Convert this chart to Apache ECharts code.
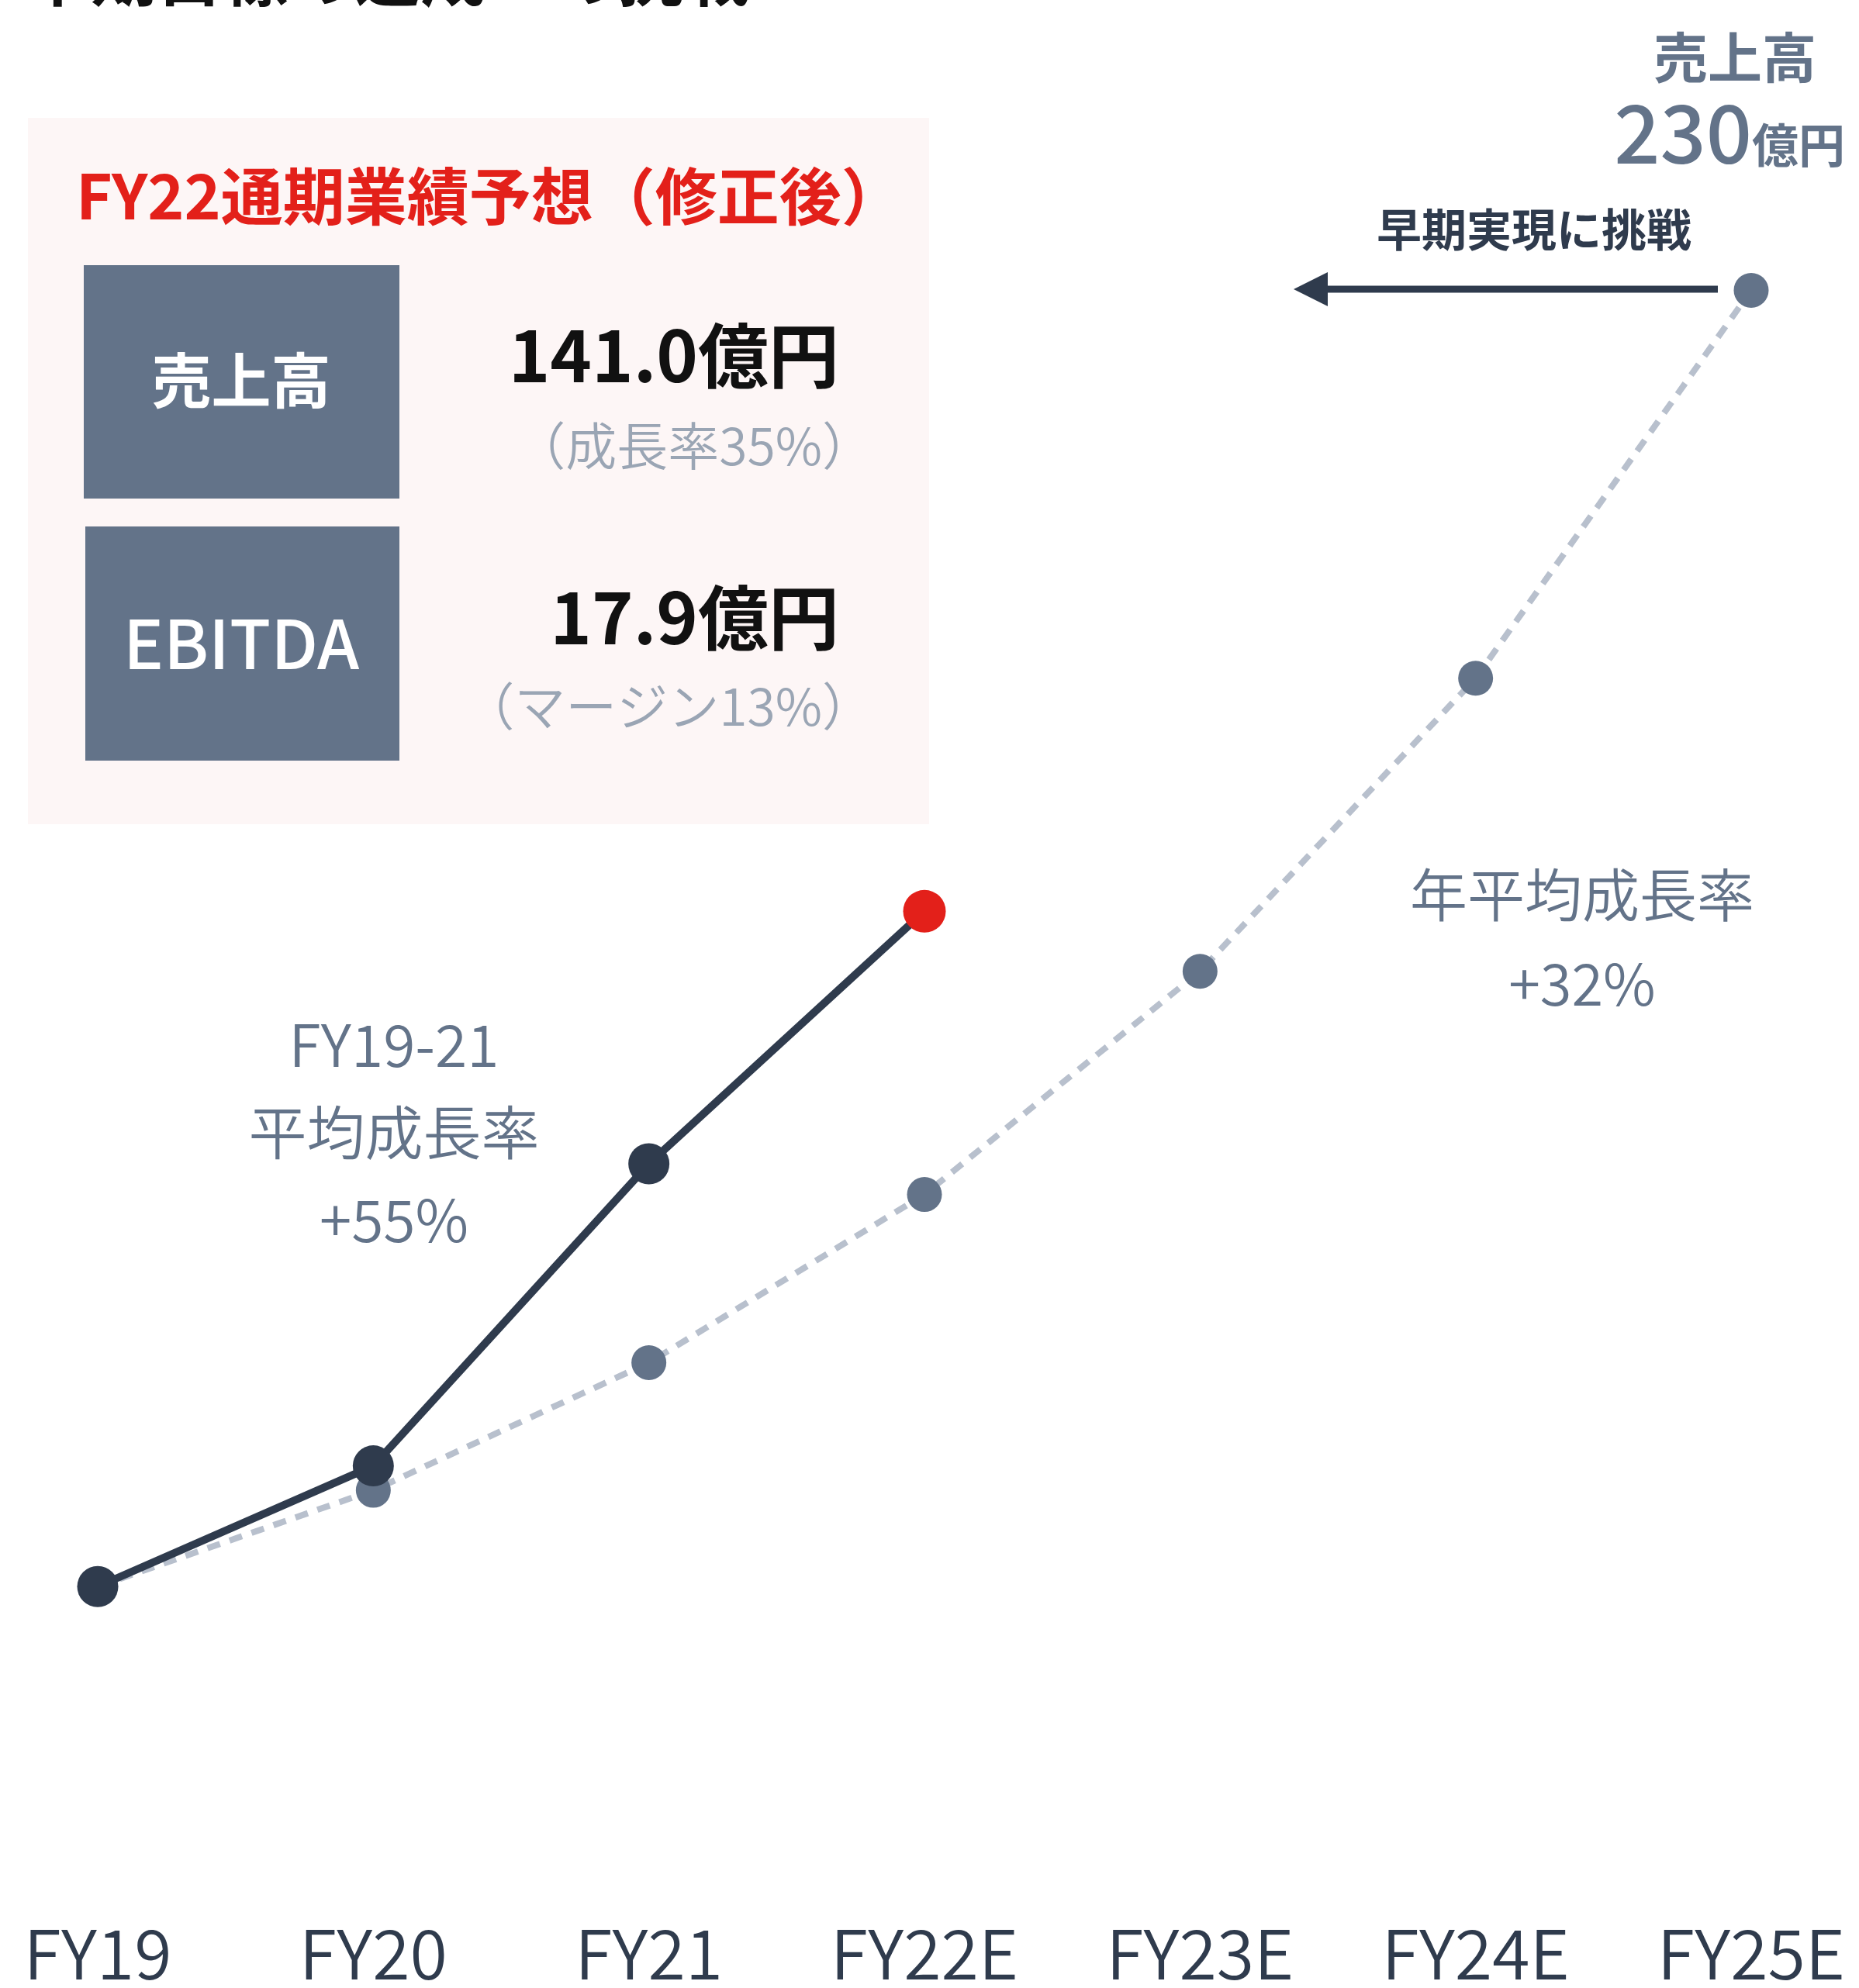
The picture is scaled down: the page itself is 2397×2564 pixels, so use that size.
<!DOCTYPE html>
<html>
<head>
<meta charset="utf-8">
<script src="https://cdn.jsdelivr.net/npm/echarts@6/dist/echarts.min.js"></script>
<style>
html,body{margin:0;padding:0;background:#fff;}
#chart{width:2397px;height:2564px;}
</style>
</head>
<body>
<div id="chart"></div>
<script>
const categories = ['FY19','FY20','FY21','FY22E','FY23E','FY24E','FY25E'];
const actualSales = [44.2, 61.5, 104.8, 141.0, null, null, null];
const planSales = [44.2, 58.0, 76.3, 100.4, 132.4, 174.4, 230.0];

const FONT = '"Noto Sans CJK JP","Noto Sans",sans-serif';
const DARK = '#2f3b4d';
const SLATE = '#637389';
const LIGHT = '#b8c0cd';
const RED = '#e3201a';
const GRAY = '#9aa5b4';

const chart = echarts.init(document.getElementById('chart'));

const option = {
  backgroundColor: '#ffffff',
  animation: false,
  grid: {left: 126, right: 139, top: 194.5, bottom: 117, containLabel: false},
  xAxis: {
    type: 'category',
    data: categories,
    boundaryGap: false,
    axisLine: {show: false},
    axisTick: {show: false},
    splitLine: {show: false},
    axisLabel: {fontSize: 88, fontWeight: 350, color: DARK, fontFamily: FONT, margin: 32, interval: 0}
  },
  yAxis: {
    type: 'value', min: 0, max: 250,
    show: false
  },
  series: [
    {
      name: '計画',
      type: 'line',
      data: planSales,
      z: 2,
      symbol: 'circle',
      symbolSize: 45,
      lineStyle: {color: LIGHT, width: 8, type: [17, 13]},
      itemStyle: {color: SLATE}
    },
    {
      name: '実績',
      type: 'line',
      data: actualSales.map((v, i) => i === 3 ? {value: v, itemStyle: {color: RED}, symbolSize: 55} : v),
      z: 3,
      symbol: 'circle',
      symbolSize: 53,
      lineStyle: {color: DARK, width: 10},
      itemStyle: {color: DARK}
    }
  ],
  graphic: [
    // cut-off title
    {type: 'text', left: 32, top: -74, z: 10,
     style: {text: '中期目標の達成への挑戦', font: 'bold 85px ' + FONT, fill: '#111'}},
    // pink box
    {type: 'rect', shape: {x: 36, y: 152, width: 1162, height: 911}, style: {fill: '#fdf6f6'}, z: 0},
    {type: 'text', x: 98, y: 253, z: 10,
     style: {text: 'FY22通期業績予想（修正後）', font: 'bold 80px ' + FONT, fill: RED, textVerticalAlign: 'middle', textAlign: 'left'}},
    {type: 'rect', shape: {x: 108, y: 342, width: 407, height: 301}, style: {fill: SLATE}, z: 5},
    {type: 'text', x: 311, y: 491, z: 10,
     style: {text: '売上高', font: 'bold 77px ' + FONT, fill: '#fff', textAlign: 'center', textVerticalAlign: 'middle'}},
    {type: 'rect', shape: {x: 110, y: 679, width: 405, height: 302}, style: {fill: SLATE}, z: 5},
    {type: 'text', x: 311, y: 830, z: 10,
     style: {text: 'EBITDA', font: '500 87px ' + FONT, fill: '#fff', textAlign: 'center', textVerticalAlign: 'middle'}},
    {type: 'text', x: 1082, y: 458, z: 10,
     style: {text: '141.0億円', font: 'bold 91px ' + FONT, fill: '#111', textAlign: 'right', textVerticalAlign: 'middle'}},
    {type: 'text', x: 1126, y: 575, z: 10,
     style: {text: '（成長率35%）', font: '350 66px ' + FONT, fill: GRAY, textAlign: 'right', textVerticalAlign: 'middle'}},
    {type: 'text', x: 1082, y: 796, z: 10,
     style: {text: '17.9億円', font: 'bold 91px ' + FONT, fill: '#111', textAlign: 'right', textVerticalAlign: 'middle'}},
    {type: 'text', x: 1126, y: 911, z: 10,
     style: {text: '（マージン13%）', font: '350 66px ' + FONT, fill: GRAY, textAlign: 'right', textVerticalAlign: 'middle'}},
    // top right target
    {type: 'text', x: 2237, y: 74, z: 10,
     style: {text: '売上高', font: 'bold 70px ' + FONT, fill: SLATE, textAlign: 'center', textVerticalAlign: 'middle'}},
    {type: 'text', x: 2379, y: 223, z: 10,
     style: {
       text: '{a|230}{b|億円}',
       textAlign: 'right', textVerticalAlign: 'bottom',
       rich: {
         a: {font: '500 104px ' + FONT, fill: SLATE, verticalAlign: 'bottom'},
         b: {font: 'bold 60px ' + FONT, fill: SLATE, verticalAlign: 'bottom', padding: [0, 0, 6, 0]}
       }
     }},
    {type: 'text', x: 1978, y: 296, z: 10,
     style: {text: '早期実現に挑戦', font: 'bold 58px ' + FONT, fill: DARK, textAlign: 'center', textVerticalAlign: 'middle'}},
    {type: 'line', shape: {x1: 2215, y1: 373, x2: 1705, y2: 373}, style: {stroke: DARK, lineWidth: 9}, z: 10},
    {type: 'polygon', shape: {points: [[1668, 373], [1712, 351], [1712, 395]]}, style: {fill: DARK}, z: 10},
    // annotations
    {type: 'text', x: 508, y: 1460, z: 10,
     style: {text: 'FY19-21\n平均成長率\n+55%', font: '350 75px ' + FONT, fill: SLATE, textAlign: 'center', textVerticalAlign: 'middle', lineHeight: 113}},
    {type: 'text', x: 2040, y: 1211, z: 10,
     style: {text: '年平均成長率\n+32%', font: '350 74px ' + FONT, fill: SLATE, textAlign: 'center', textVerticalAlign: 'middle', lineHeight: 115}}
  ]
};
chart.setOption(option);
</script>
</body>
</html>
